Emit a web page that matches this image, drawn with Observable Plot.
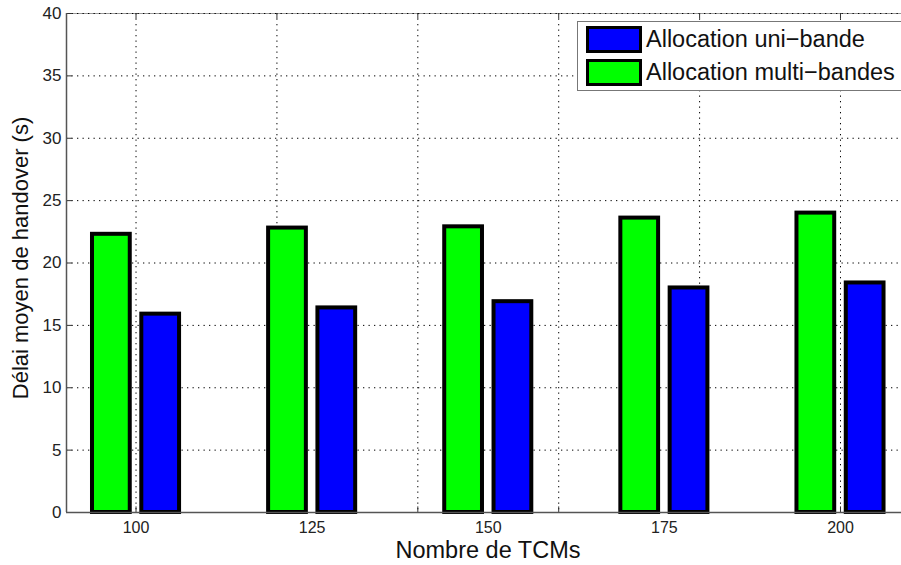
<!DOCTYPE html>
<html>
<head>
<meta charset="utf-8">
<script src="https://cdn.jsdelivr.net/npm/d3@7"></script>
<script src="https://cdn.jsdelivr.net/npm/@observablehq/plot@0.6"></script>
<style>
  html, body { margin: 0; padding: 0; background: #fff; overflow: hidden; }
  #wrap { position: relative; width: 901px; height: 565px; font-family: "Liberation Sans", Arial, sans-serif; }
  #legend { position: absolute; left: 577px; top: 21px; width: 340px; height: 70px; background: #fff;
            border: 1px solid #777; box-sizing: border-box; }
  .row { position: absolute; left: 8px; height: 27px; display: flex; align-items: center; }
  .sw { width: 50px; height: 21px; border: 3.5px solid #000; margin-right: 4px; }
  .lbl { font-size: 23.5px; color: #111; white-space: nowrap; }
</style>
</head>
<body>
<div id="wrap"></div>
<script>
// ---- data ----
const tcm = [100, 125, 150, 175, 200];
const multiBandes = [22.3, 22.8, 22.9, 23.6, 24.0];
const uniBande = [15.9, 16.4, 16.9, 18.0, 18.4];
const yTicks = [0, 5, 10, 15, 20, 25, 30, 35, 40];
const xGrid = [100, 120, 140, 160, 180, 200];
const seriesNames = ["Allocation uni-bande", "Allocation multi-bandes"];
const seriesColors = ["#0000ff", "#00ff00"];

const xMin = 90.13, xMax = 208.66;
const off = 3.5, hw = 2.68;

const multiData = tcm.map((t, i) => ({tcm: t, v: multiBandes[i]}));
const uniData = tcm.map((t, i) => ({tcm: t, v: uniBande[i]}));

const dotted = {stroke: "#000", strokeWidth: 1, strokeDasharray: "1.3,4.2"};

const chart = Plot.plot({
  width: 901,
  height: 565,
  marginLeft: 66,
  marginRight: 0,
  marginTop: 13,
  marginBottom: 53,
  style: {fontFamily: "'Liberation Sans', Arial, sans-serif", color: "#222", background: "#fff"},
  x: {type: "linear", domain: [xMin, xMax]},
  y: {domain: [0, 40]},
  marks: [
    // top box line
    Plot.ruleY([40], {stroke: "#999", strokeWidth: 1}),
    // grid
    Plot.ruleY(yTicks.filter(d => d > 0), dotted),
    Plot.ruleX(xGrid, dotted),
    // inward ticks
    Plot.ruleY(yTicks, {x1: xMin, x2: xMin + 0.85, stroke: "#333", strokeWidth: 1}),
    Plot.ruleX(xGrid, {y1: 0, y2: 0.45, stroke: "#333", strokeWidth: 1}),
    Plot.ruleX(xGrid, {y1: 40 - 0.45, y2: 40, stroke: "#333", strokeWidth: 1}),
    // bars
    Plot.rectY(multiData, {x1: d => d.tcm - off - hw, x2: d => d.tcm - off + hw, y1: 0, y2: "v",
      fill: seriesColors[1], stroke: "#000", strokeWidth: 4}),
    Plot.rectY(uniData, {x1: d => d.tcm + off - hw, x2: d => d.tcm + off + hw, y1: 0, y2: "v",
      fill: seriesColors[0], stroke: "#000", strokeWidth: 4}),
    // axis lines
    Plot.ruleX([xMin], {stroke: "#555", strokeWidth: 1.5}),
    Plot.ruleY([0], {stroke: "#555", strokeWidth: 1.5}),
    // tick labels
    Plot.axisY(yTicks, {tickSize: 0, tickPadding: 5, fontSize: 17, label: null}),
    Plot.axisX(tcm, {tickSize: 0, tickPadding: 9, fontSize: 16, label: null}),
    // axis titles
    Plot.text(["Délai moyen de handover (s)"], {frameAnchor: "left", textAnchor: "middle", lineAnchor: "middle",
      rotate: -90, dx: -46, dy: -5, fontSize: 22, fill: "#111"}),
    Plot.text(["Nombre de TCMs"], {frameAnchor: "bottom", textAnchor: "middle", lineAnchor: "middle",
      dy: 38, dx: 4, fontSize: 23.5, fill: "#111"})
  ]
});

const wrap = document.getElementById("wrap");
wrap.appendChild(chart);

// legend
const legend = document.createElement("div");
legend.id = "legend";
seriesNames.forEach((name, i) => {
  const row = document.createElement("div");
  row.className = "row";
  row.style.top = (4 + i * 33) + "px";
  const sw = document.createElement("div");
  sw.className = "sw";
  sw.style.background = seriesColors[i];
  const lb = document.createElement("span");
  lb.className = "lbl";
  lb.textContent = name.replace("-", "\u2212");
  row.appendChild(sw);
  row.appendChild(lb);
  legend.appendChild(row);
});
wrap.appendChild(legend);
</script>
</body>
</html>
